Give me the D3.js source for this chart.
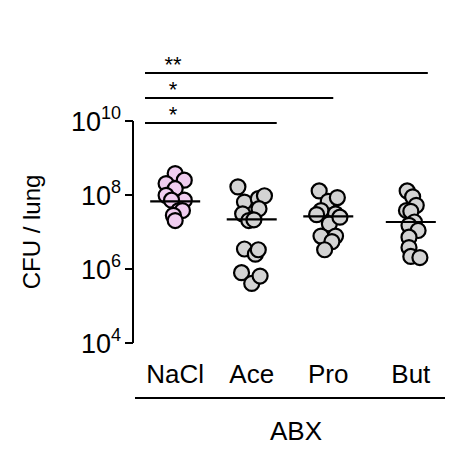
<!DOCTYPE html>
<html>
<head>
<meta charset="UTF-8">
<script src="https://cdnjs.cloudflare.com/ajax/libs/d3/7.8.5/d3.min.js"></script>
<style>
  body { margin: 0; background: #fff; font-family: Arial, "Liberation Sans", sans-serif; }
</style>
</head>
<body>
<svg id="chart" width="454" height="451"></svg>
<script>
const groups = ["NaCl", "Ace", "Pro", "But"];
// log10 CFU per lung
const naclLog = [8.58, 8.31, 8.4, 8.17, 7.99, 7.86, 7.86, 7.58, 7.58, 7.45, 7.31];
const aceLog = [8.22, 7.81, 7.9, 7.98, 7.63, 7.49, 7.31, 7.33, 6.54, 6.4, 6.52, 5.9, 5.61, 5.81];
const proLog = [8.11, 7.83, 7.93, 7.58, 7.47, 7.49, 7.22, 6.89, 6.89, 6.74, 6.52, 7.4];
const butLog = [8.11, 7.95, 7.72, 7.58, 7.56, 7.27, 7.18, 7.04, 6.86, 6.58, 6.34, 6.31];
// horizontal jitter, in band fractions
const naclJit = [0, -0.25, 0.25, 0, -0.25, 0.25, -0.1, 0.1, 0.2, -0.05, 0];
const aceJit = [-0.38, -0.2, 0.18, 0.35, 0.2, -0.25, -0.08, 0.06, -0.2, 0.1, 0.18, -0.28, 0, 0.23];
const proJit = [-0.25, 0, 0.25, -0.2, -0.32, 0.2, 0.03, -0.2, 0.2, 0.1, -0.1, 0.32];
const butJit = [-0.1, 0.05, 0.15, -0.12, 0, 0.1, -0.05, 0.2, -0.05, -0.05, 0, 0.25];
const meanLog = [7.83, 7.34, 7.42, 7.27];
const fills = ["#f0cdf0", "#d3d3d3", "#d3d3d3", "#d3d3d3"];
const yTicks = [4, 6, 8, 10];
const sigBars = [
  { to: "Ace", label: "*" },
  { to: "Pro", label: "*" },
  { to: "But", label: "**" }
];
const series = [naclLog, aceLog, proLog, butLog];
const jitters = [naclJit, aceJit, proJit, butJit];

const svg = d3.select("#chart");
const y = d3.scaleLinear().domain([4, 10]).range([343, 121]);
const x = d3.scaleBand().domain(groups).range([135, 445]).padding(0.05);
const cx = g => x(g) + x.bandwidth() / 2 + (g === "But" ? 6 : 0);
const half = x.bandwidth() / 2;

// y axis
svg.append("line").attr("x1", 133).attr("x2", 133).attr("y1", y(10)).attr("y2", y(4))
  .attr("stroke", "#000").attr("stroke-width", 2);
yTicks.forEach(t => {
  svg.append("line").attr("x1", 125).attr("x2", 133).attr("y1", y(t)).attr("y2", y(t))
    .attr("stroke", "#000").attr("stroke-width", 2);
  const tx = svg.append("text").attr("x", 121).attr("y", y(t) + 10).attr("text-anchor", "end")
    .style("font-size", "27px");
  tx.append("tspan").text("10");
  tx.append("tspan").attr("dy", -12).style("font-size", "18px").text(t);
});
svg.append("text").attr("transform", "translate(40,232) rotate(-90)").attr("text-anchor", "middle")
  .style("font-size", "24px").text("CFU / lung");

// points
series.forEach((vals, i) => {
  const g = groups[i];
  vals.forEach((v, j) => {
    svg.append("circle").attr("cx", cx(g) + jitters[i][j] * half).attr("cy", y(v)).attr("r", 7.5)
      .attr("fill", fills[i]).attr("stroke", "#000").attr("stroke-width", 2.2);
  });
  svg.append("line").attr("x1", cx(g) - 25).attr("x2", cx(g) + 25)
    .attr("y1", y(meanLog[i])).attr("y2", y(meanLog[i])).attr("stroke", "#000").attr("stroke-width", 2.2);
  svg.append("text").attr("x", cx(g)).attr("y", 383).attr("text-anchor", "middle")
    .style("font-size", "26px").text(g);
});

// ABX bracket
svg.append("line").attr("x1", 135).attr("x2", 445).attr("y1", 398).attr("y2", 398)
  .attr("stroke", "#000").attr("stroke-width", 2);
svg.append("text").attr("x", 296).attr("y", 440).attr("text-anchor", "middle")
  .style("font-size", "26px").text("ABX");

// significance bars
const barEnd = [25, 5, 17];
sigBars.forEach((s, i) => {
  const yy = 123 - i * 25;
  svg.append("line").attr("x1", 145).attr("x2", cx(s.to) + barEnd[i]).attr("y1", yy).attr("y2", yy)
    .attr("stroke", "#000").attr("stroke-width", 2);
  svg.append("text").attr("x", 173).attr("y", yy - 1).attr("text-anchor", "middle")
    .style("font-size", "22px").text(s.label);
});
</script>
</body>
</html>
